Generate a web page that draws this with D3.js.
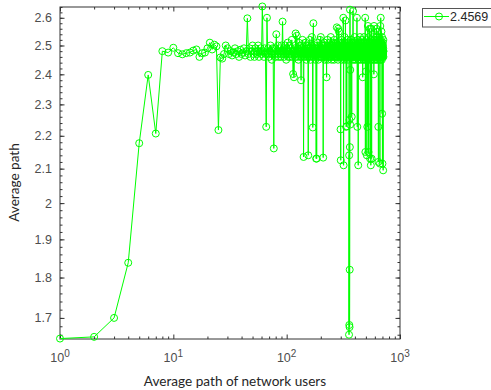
<!DOCTYPE html>
<html>
<head>
<meta charset="utf-8">
<script src="https://cdn.jsdelivr.net/npm/d3@7"></script>
<style>
body{margin:0;background:#fff;}
.tick text{font-family:"Liberation Sans",Arial,sans-serif;font-size:12.5px;fill:#4d4d4d;}
</style>
</head>
<body>
<script>
// average path per number of users (x = 1, 2, 3 ...)
const avgPath = [
1.651,1.655,1.70,1.838,2.177,2.398,2.207,2.48,2.475,2.492,
2.473,2.469,2.473,2.475,2.482,2.486,2.46,2.473,2.475,2.49,
2.51,2.486,2.503,2.497,2.218,2.458,2.454,2.47,2.50,2.49,
2.47,2.48,2.465,2.475,2.49,2.47,2.48,2.46,2.485,2.47,
2.475,2.49,2.465,2.48,2.598,2.47,2.49,2.46,2.48,2.50,
2.47,2.46,2.49,2.48,2.47,2.50,2.46,2.48,2.49,2.47,
2.642,2.48,2.46,2.49,2.47,2.228,2.60,2.47,2.49,2.46,
2.48,2.50,2.47,2.45,2.49,2.48,2.161,2.47,2.49,2.46,
2.54,2.48,2.47,2.50,2.46,2.48,2.49,2.47,2.46,2.50,
2.48,2.586,2.47,2.49,2.46,2.48,2.50,2.47,2.45,2.49,
2.48,2.51,2.46,2.48,2.47,2.50,2.46,2.49,2.48,2.47,
2.52,2.46,2.48,2.401,2.48,2.39,2.47,2.49,2.46,2.543,
2.48,2.47,2.535,2.46,2.49,2.48,2.45,2.51,2.47,2.48,
2.46,2.50,2.47,2.38,2.48,2.49,2.46,2.52,2.47,2.48,
2.135,2.50,2.47,2.49,2.46,2.48,2.51,2.47,2.45,2.49,
2.48,2.50,2.46,2.48,2.14,2.47,2.49,2.46,2.48,2.52,
2.47,2.45,2.49,2.48,2.50,2.46,2.53,2.47,2.49,2.226,
2.48,2.58,2.47,2.49,2.46,2.48,2.50,2.47,2.45,2.49,
2.48,2.13,2.47,2.13,2.49,2.46,2.48,2.51,2.47,2.45,
2.49,2.48,2.50,2.46,2.48,2.47,2.52,2.46,2.49,2.53,
2.47,2.48,2.46,2.50,2.47,2.49,2.48,2.46,2.50,2.133,
2.47,2.49,2.46,2.48,2.50,2.51,2.47,2.45,2.49,2.48,
2.50,2.46,2.48,2.47,2.39,2.49,2.46,2.48,2.52,2.47,
2.45,2.49,2.48,2.50,2.46,2.48,2.47,2.51,2.46,2.49,
2.48,2.47,2.50,2.46,2.53,2.47,2.49,2.48,2.45,2.50,
2.47,2.49,2.46,2.48,2.51,2.47,2.48,2.46,2.50,2.49,
2.47,2.45,2.48,2.52,2.46,2.49,2.48,2.47,2.50,2.46,
2.48,2.49,2.47,2.51,2.46,2.48,2.565,2.47,2.49,2.46,
2.48,2.50,2.47,2.45,2.56,2.48,2.47,2.50,2.55,2.49,
2.46,2.48,2.51,2.47,2.49,2.46,2.48,2.50,2.22,2.125,
2.47,2.49,2.46,2.48,2.52,2.47,2.45,2.49,2.48,2.50,
2.46,2.48,2.47,2.51,2.49,2.60,2.47,2.11,2.48,2.50,
2.46,2.49,2.48,2.53,2.47,2.45,2.49,2.48,2.50,2.59,
2.46,2.48,2.47,2.51,2.228,2.49,2.48,2.46,2.23,2.50,
2.47,2.49,2.46,2.48,2.52,2.47,2.45,2.49,2.48,2.50,
2.46,2.48,2.47,2.51,1.66,2.14,1.683,2.25,1.678,1.82,
2.165,2.63,2.235,2.415,2.48,2.46,2.50,2.47,2.49,2.48,
2.52,2.46,2.48,2.47,2.26,2.49,2.46,2.48,2.51,2.47,
2.45,2.49,2.48,2.50,2.625,2.46,2.48,2.47,2.51,2.49,
2.46,2.48,2.50,2.47,2.45,2.49,2.48,2.53,2.46,2.48,
2.47,2.50,2.46,2.49,2.48,2.51,2.47,2.45,2.49,2.48,
2.50,2.46,2.48,2.47,2.47,2.49,2.60,2.48,2.46,2.228,
2.47,2.49,2.46,2.48,2.52,2.47,2.45,2.11,2.48,2.50,
2.46,2.48,2.47,2.51,2.49,2.46,2.48,2.50,2.47,2.45,
2.49,2.48,2.53,2.46,2.48,2.47,2.50,2.46,2.49,2.48,
2.47,2.51,2.46,2.48,2.50,2.47,2.45,2.49,2.48,2.52,
2.46,2.48,2.47,2.50,2.46,2.49,2.48,2.47,2.39,2.50,
2.46,2.48,2.51,2.47,2.45,2.49,2.48,2.50,2.46,2.48,
2.47,2.53,2.49,2.46,2.48,2.50,2.47,2.45,2.49,2.48,
2.51,2.46,2.60,2.48,2.15,2.47,2.49,2.46,2.48,2.41,
2.47,2.50,2.46,2.49,2.48,2.52,2.47,2.45,2.49,2.14,
2.48,2.50,2.46,2.48,2.228,2.47,2.51,2.49,2.46,2.48,
2.57,2.47,2.49,2.46,2.48,2.50,2.15,2.47,2.45,2.49,
2.48,2.53,2.46,2.48,2.47,2.50,2.46,2.49,2.48,2.56,
2.47,2.51,2.46,2.48,2.13,2.47,2.45,2.49,2.48,2.50,
2.46,2.48,2.11,2.47,2.51,2.49,2.46,2.48,2.50,2.56,
2.47,2.13,2.45,2.49,2.48,2.52,2.46,2.48,2.47,2.50,
2.46,2.49,2.48,2.47,2.51,2.46,2.48,2.50,2.47,2.45,
2.49,2.48,2.53,2.46,2.48,2.47,2.50,2.40,2.49,2.57,
2.48,2.47,2.51,2.46,2.48,2.50,2.47,2.45,2.49,2.48,
2.52,2.46,2.48,2.47,2.50,2.46,2.49,2.48,2.47,2.51,
2.46,2.48,2.50,2.47,2.45,2.49,2.48,2.53,2.46,2.56,
2.48,2.47,2.50,2.46,2.49,2.48,2.47,2.51,2.46,2.48,
2.50,2.47,2.45,2.49,2.48,2.52,2.46,2.48,2.47,2.55,
2.50,2.46,2.49,2.228,2.12,2.48,2.47,2.51,2.46,2.48,
2.50,2.47,2.45,2.49,2.48,2.53,2.46,2.48,2.47,2.50,
2.46,2.49,2.48,2.47,2.115,2.51,2.46,2.48,2.50,2.57,
2.47,2.45,2.49,2.48,2.52,2.60,2.46,2.48,2.47,2.50,
2.46,2.49,2.48,2.47,2.51,2.55,2.46,2.48,2.50,2.47,
2.45,2.49,2.48,2.53,2.27,2.46,2.48,2.47,2.50,2.115,
2.46,2.49,2.48,2.47,2.51,2.46,2.48,2.50,2.47,2.095,
2.49,2.48,2.52,2.46,2.48
];
const users = d3.range(1, avgPath.length + 1);

const xTicks = [1, 10, 100, 1000];
const xTickExp = ["0", "1", "2", "3"];
const yTicks = [1.7, 1.8, 1.9, 2, 2.1, 2.2, 2.3, 2.4, 2.5, 2.6];
const legendLabel = "2.4569";
const xLabel = "Average path of network users";
const yLabel = "Average path";

var w = 491, h = 390;
const mLeft = 60, mRight = 400, mTop = 7, mBottom = 339;
const green = "#00ff00";
const axisColor = "#333";

const svg = d3.select("body").append("svg")
  .attr("width", w)
  .attr("height", h);

const xScale = d3.scaleLog().domain([1, 1000]).range([mLeft, mRight]);
const yScale = d3.scaleLog().domain([1.65, 2.64]).range([mBottom, mTop]);

// minor ticks
const xMinor = [];
for (let d = 1; d < 1000; d *= 10) {
  for (let k = 2; k <= 9; k++) xMinor.push(d * k);
}
const yMinor = d3.range(166, 265, 2).map(v => v / 100);

function styleAxis(g) {
  g.select(".domain").remove();
  g.selectAll(".tick line").attr("stroke", axisColor);
}

// bottom
svg.append("g").attr("transform", "translate(0," + mBottom + ")")
  .call(d3.axisBottom(xScale).tickValues(xMinor).tickSize(-2.5).tickFormat(""))
  .call(styleAxis);
svg.append("g").attr("transform", "translate(0," + mBottom + ")")
  .call(d3.axisBottom(xScale).tickValues(xTicks).tickSize(-4.5).tickFormat(""))
  .call(styleAxis);
// top
svg.append("g").attr("transform", "translate(0," + mTop + ")")
  .call(d3.axisTop(xScale).tickValues(xMinor).tickSize(-2.5).tickFormat(""))
  .call(styleAxis);
svg.append("g").attr("transform", "translate(0," + mTop + ")")
  .call(d3.axisTop(xScale).tickValues(xTicks).tickSize(-4.5).tickFormat(""))
  .call(styleAxis);
// left
svg.append("g").attr("transform", "translate(" + mLeft + ",0)")
  .call(d3.axisLeft(yScale).tickValues(yMinor).tickSize(-2.5).tickFormat(""))
  .call(styleAxis);
svg.append("g").attr("transform", "translate(" + mLeft + ",0)")
  .call(d3.axisLeft(yScale).tickValues(yTicks).tickSize(-4.5).tickPadding(8).tickFormat(d => String(d)))
  .call(styleAxis);
// right
svg.append("g").attr("transform", "translate(" + mRight + ",0)")
  .call(d3.axisRight(yScale).tickValues(yMinor).tickSize(-2.5).tickFormat(""))
  .call(styleAxis);
svg.append("g").attr("transform", "translate(" + mRight + ",0)")
  .call(d3.axisRight(yScale).tickValues(yTicks).tickSize(-4.5).tickFormat(""))
  .call(styleAxis);

// box
svg.append("rect")
  .attr("x", mLeft).attr("y", mTop)
  .attr("width", mRight - mLeft).attr("height", mBottom - mTop)
  .attr("fill", "none").attr("stroke", axisColor).attr("stroke-width", 1);

// x tick labels 10^n
const xl = svg.append("g");
xTicks.forEach(function(v, i) {
  const t = xl.append("text")
    .attr("x", xScale(v))
    .attr("y", mBottom + 22.5)
    .attr("text-anchor", "middle")
    .style("font-family", '"Liberation Sans",Arial,sans-serif')
    .style("font-size", "12.5px")
    .style("fill", "#4d4d4d");
  t.append("tspan").text("10");
  t.append("tspan").attr("dy", -5).style("font-size", "10px").text(xTickExp[i]);
});

// data
const line = d3.line()
  .x((d, i) => xScale(users[i]))
  .y(d => yScale(d));

svg.append("path")
  .datum(avgPath)
  .attr("d", line)
  .attr("fill", "none")
  .attr("stroke", green)
  .attr("stroke-width", 1);

svg.append("g").selectAll("circle")
  .data(avgPath)
  .enter()
  .append("circle")
  .attr("cx", (d, i) => xScale(users[i]))
  .attr("cy", d => yScale(d))
  .attr("r", 3.5)
  .attr("fill", "none")
  .attr("stroke", green)
  .attr("stroke-width", 1);

// axis labels
svg.append("text")
  .attr("x", 235)
  .attr("y", 385.5)
  .attr("text-anchor", "middle")
  .style("font-family", "Lato, 'Open Sans', sans-serif")
  .style("font-size", "13.6px")
  .style("fill", "#262626")
  .text(xLabel);

svg.append("text")
  .attr("transform", "translate(19,182.5) rotate(-90)")
  .attr("text-anchor", "middle")
  .style("font-family", "Lato, 'Open Sans', sans-serif")
  .style("font-size", "13.6px")
  .style("fill", "#262626")
  .text(yLabel);

// legend
const lg = svg.append("g");
lg.append("rect")
  .attr("x", 422.5).attr("y", 8.5)
  .attr("width", 90).attr("height", 18.5)
  .attr("fill", "#fff").attr("stroke", "#555").attr("stroke-width", 1);
lg.append("line")
  .attr("x1", 424).attr("x2", 449)
  .attr("y1", 16.5).attr("y2", 16.5)
  .attr("stroke", green).attr("stroke-width", 1);
lg.append("circle")
  .attr("cx", 439).attr("cy", 16.5).attr("r", 3.5)
  .attr("fill", "none").attr("stroke", green);
lg.append("text")
  .attr("x", 450).attr("y", 21)
  .style("font-family", '"Liberation Sans",Arial,sans-serif')
  .style("font-size", "12.5px")
  .style("fill", "#262626")
  .text(legendLabel);
</script>
</body>
</html>
